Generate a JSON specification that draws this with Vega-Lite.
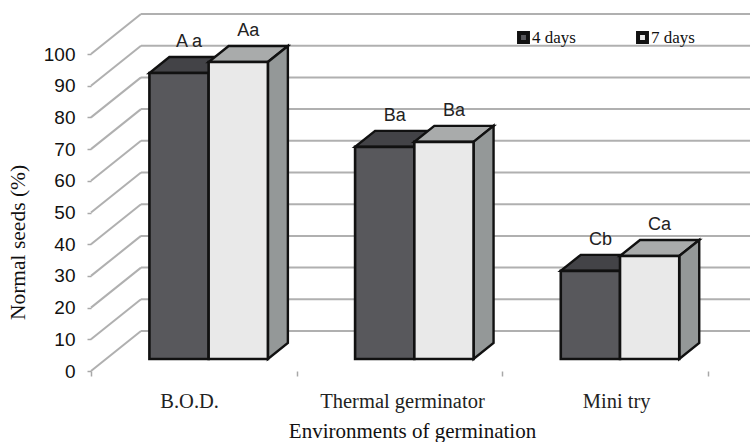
{
"$schema":"https://vega.github.io/schema/vega-lite/v6.json",
"width":659,"height":357,
"autosize":{"type":"none"},
"padding":{"left":91,"top":14,"right":0,"bottom":71},
"background":"white",
"config":{"view":{"stroke":null}},
"datasets":{
"bars":[
{"env":"B.O.D.","series":"4 days","value":90.2,"label":"A a"},
{"env":"B.O.D.","series":"7 days","value":93.7,"label":"Aa"},
{"env":"Thermal germinator","series":"4 days","value":66.9,"label":"Ba"},
{"env":"Thermal germinator","series":"7 days","value":68.5,"label":"Ba"},
{"env":"Mini try","series":"4 days","value":27.8,"label":"Cb"},
{"env":"Mini try","series":"7 days","value":32.5,"label":"Ca"}
],
"grid":[{"g":0},{"g":10},{"g":20},{"g":30},{"g":40},{"g":50},{"g":60},{"g":70},{"g":80},{"g":90},{"g":100}]
},
"layer":[
{"data":{"name":"grid"},
 "transform":[{"calculate":"datum.g+12.62","as":"gb"}],
 "mark":{"type":"rule","stroke":"#b0b0b0","strokeWidth":2},
 "encoding":{
  "x":{"datum":0,"type":"quantitative","scale":{"domain":[0,3.204],"nice":false,"zero":false},
   "axis":{"values":[0,0.477,1,1.512,2,2.553,3],"grid":false,"domain":false,"tickColor":"#a8a8a8","tickWidth":1.5,"tickSize":5,
    "tickOpacity":{"condition":{"test":"datum.value%1==0","value":1},"value":0},
    "labelExpr":"datum.value==0.477?'B.O.D.':datum.value==1.512?'Thermal germinator':datum.value==2.553?'Mini try':''",
    "labelFont":"Liberation Serif","labelFontSize":20.5,"labelColor":"#222","labelPadding":15,"labelOverlap":false,"labelBound":false,"labelFlush":false,
    "title":"Environments of germination","titleFont":"Liberation Serif","titleFontSize":21,"titleFontWeight":"normal","titleColor":"#111","titleX":321,"titleY":49,"titleAnchor":"middle"}},
  "x2":{"datum":0.243},
  "y":{"field":"g","type":"quantitative","scale":{"domain":[0,112.62],"nice":false,"zero":false},
   "axis":{"values":[0,10,20,30,40,50,60,70,80,90,100],"tickCount":11,"grid":false,"domain":false,"tickColor":"#a8a8a8","tickWidth":1.5,"tickSize":4,
    "labelFont":"Liberation Sans","labelFontSize":19,"labelColor":"#111","labelPadding":12,"labelOverlap":false,"labelBound":false,"labelSeparation":0,"labelLimit":100,
    "labelExpr":"format(datum.value,'d')",
    "title":"Normal seeds (%)","titleFont":"Liberation Serif","titleFontSize":21.5,"titleFontWeight":"normal","titleColor":"#111","titleX":-62,"titleY":228,"titleAnchor":"middle"}},
  "y2":{"field":"gb"}
 }},
{"data":{"name":"grid"},
 "transform":[{"calculate":"datum.g+12.62","as":"gb"}],
 "mark":{"type":"rule","stroke":"#b0b0b0","strokeWidth":2},
 "encoding":{
  "x":{"datum":0.243,"type":"quantitative"},
  "x2":{"datum":3.204},
  "y":{"field":"gb","type":"quantitative"}
 }},
{"mark":{"type":"rule","stroke":"#b0b0b0","strokeWidth":2},
 "encoding":{"x":{"datum":0,"type":"quantitative"},"y":{"datum":0,"type":"quantitative"},"y2":{"datum":100}}},
{"mark":{"type":"rule","stroke":"#b0b0b0","strokeWidth":2},
 "encoding":{"x":{"datum":0,"type":"quantitative"},"x2":{"datum":3},"y":{"datum":0,"type":"quantitative"}}},
{"mark":{"type":"rule","stroke":"#b0b0b0","strokeWidth":2,"clip":true},
 "encoding":{"x":{"datum":3,"type":"quantitative"},"x2":{"datum":3.243},"y":{"datum":0,"type":"quantitative"},"y2":{"datum":12.62}}},
{"data":{"name":"bars"},
 "transform":[
  {"filter":"datum.series=='4 days'"},
  {"calculate":"indexof(['B.O.D.','Thermal germinator','Mini try'],datum.env)+0.284","as":"x0"},
  {"calculate":"[0,1]","as":"k"},{"flatten":["k"]},
  {"calculate":"datum.x0+datum.k*0.0972","as":"xa"},
  {"calculate":"datum.x0+0.288+datum.k*0.0972","as":"xb"},
  {"calculate":"datum.value+3.79+datum.k*5.05","as":"yy"}
 ],
 "mark":{"type":"area","orient":"horizontal","fill":"#434347","stroke":"#111","strokeWidth":2.4,"opacity":1},
 "encoding":{"detail":{"field":"env"},"x":{"field":"xa","type":"quantitative"},"x2":{"field":"xb"},"y":{"field":"yy","type":"quantitative"}}},
{"data":{"name":"bars"},
 "transform":[
  {"filter":"datum.series=='7 days'"},
  {"calculate":"indexof(['B.O.D.','Thermal germinator','Mini try'],datum.env)+0.572","as":"x0"},
  {"calculate":"[0,1]","as":"k"},{"flatten":["k"]},
  {"calculate":"datum.x0+datum.k*0.0972","as":"xa"},
  {"calculate":"datum.x0+0.288+datum.k*0.0972","as":"xb"},
  {"calculate":"datum.value+3.79+datum.k*5.05","as":"yy"}
 ],
 "mark":{"type":"area","orient":"horizontal","fill":"#a9abab","stroke":"#111","strokeWidth":2.4,"opacity":1},
 "encoding":{"detail":{"field":"env"},"x":{"field":"xa","type":"quantitative"},"x2":{"field":"xb"},"y":{"field":"yy","type":"quantitative"}}},
{"data":{"name":"bars"},
 "transform":[
  {"filter":"datum.series=='7 days'"},
  {"calculate":"indexof(['B.O.D.','Thermal germinator','Mini try'],datum.env)+0.86","as":"x1"},
  {"calculate":"[0,1]","as":"k"},{"flatten":["k"]},
  {"calculate":"datum.x1+datum.k*0.0972","as":"xa"},
  {"calculate":"datum.value+3.79+datum.k*5.05","as":"yt"},
  {"calculate":"3.79+datum.k*5.05","as":"yb"}
 ],
 "mark":{"type":"area","orient":"vertical","fill":"#949898","stroke":"#111","strokeWidth":2.4,"opacity":1},
 "encoding":{"detail":{"field":"env"},"x":{"field":"xa","type":"quantitative"},"y":{"field":"yt","type":"quantitative"},"y2":{"field":"yb"}}},
{"data":{"name":"bars"},
 "transform":[
  {"calculate":"indexof(['B.O.D.','Thermal germinator','Mini try'],datum.env)+0.284+(datum.series=='7 days'?0.288:0)","as":"x0"},
  {"calculate":"datum.x0+0.288","as":"x1"},
  {"calculate":"datum.value+3.79","as":"yt"},
  {"calculate":"3.79","as":"yb"}
 ],
 "mark":{"type":"rect","stroke":"#111","strokeWidth":2.6,"opacity":1},
 "encoding":{
  "x":{"field":"x0","type":"quantitative"},"x2":{"field":"x1"},
  "y":{"field":"yt","type":"quantitative"},"y2":{"field":"yb"},
  "color":{"field":"series","type":"nominal","scale":{"domain":["4 days","7 days"],"range":["#58585c","#e9e9e9"]},
   "legend":{"orient":"none","legendX":424,"legendY":15,"direction":"horizontal","columns":2,"title":null,"symbolType":"square","symbolSize":80,"symbolStrokeColor":"#111","symbolStrokeWidth":4,"symbolOpacity":1,"labelFont":"Liberation Serif","labelFontSize":17,"labelColor":"#111","labelOffset":0,"columnPadding":54,"padding":0}}
 }},
{"data":{"name":"bars"},
 "transform":[
  {"calculate":"indexof(['B.O.D.','Thermal germinator','Mini try'],datum.env)+0.284+(datum.series=='7 days'?0.288:0)+0.144+0.0486","as":"xc"},
  {"calculate":"datum.value+3.79+5.05","as":"yt"}
 ],
 "mark":{"type":"text","font":"Liberation Sans","fontSize":18,"color":"#222","dy":-15,"baseline":"middle","align":"center"},
 "encoding":{"x":{"field":"xc","type":"quantitative"},"y":{"field":"yt","type":"quantitative"},"text":{"field":"label"}}}
]
}
